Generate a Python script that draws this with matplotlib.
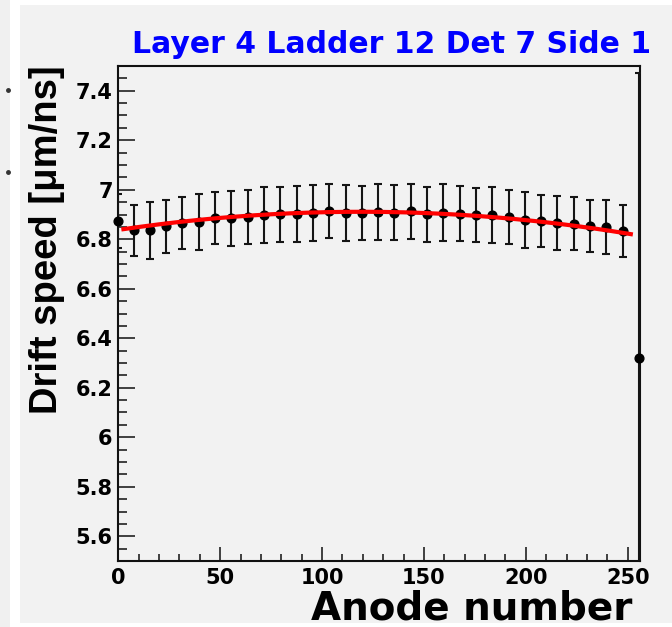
import numpy as np
import matplotlib
matplotlib.use("Agg")
import matplotlib.pyplot as plt
from matplotlib.patches import Rectangle
from matplotlib.lines import Line2D
from matplotlib.ticker import MultipleLocator

plt.rcParams['font.family'] = ['DejaVu Sans']

# ---- data ----
anode = [0, 7.5, 15.5, 23.5, 31.5, 39.5, 47.5, 55.5, 63.5, 71.5, 79.5, 87.5,
         95.5, 103.5, 111.5, 119.5, 127.5, 135.5, 143.5, 151.5, 159.5, 167.5,
         175.5, 183.5, 191.5, 199.5, 207.5, 215.5, 223.5, 231.5, 239.5, 247.5,
         255.5]
drift_speed = [6.874, 6.836, 6.836, 6.853, 6.867, 6.871, 6.884, 6.884, 6.891,
               6.897, 6.901, 6.901, 6.905, 6.914, 6.907, 6.907, 6.911, 6.907,
               6.914, 6.901, 6.907, 6.903, 6.897, 6.898, 6.891, 6.878, 6.874,
               6.867, 6.863, 6.853, 6.849, 6.833, 6.321]
drift_err = [0.11, 0.104, 0.116, 0.107, 0.105, 0.113, 0.105, 0.11, 0.11,
             0.113, 0.111, 0.113, 0.113, 0.108, 0.113, 0.109, 0.113, 0.112,
             0.111, 0.112, 0.116, 0.112, 0.11, 0.112, 0.11, 0.112, 0.104,
             0.109, 0.106, 0.106, 0.108, 0.106, 1.15]
# quadratic fit parameters (p2, p1, p0) and fit range
fit_coeffs = [-5.16e-6, 1.23e-3, 6.8377]
fit_range = [1.5, 252.5]

title = "Layer 4 Ladder 12 Det 7 Side 1"
xlabel = "Anode number"
ylabel = "Drift speed [\u03bcm/ns]"
xticks = [0, 50, 100, 150, 200, 250]
yticks = [5.6, 5.8, 6.0, 6.2, 6.4, 6.6, 6.8, 7.0, 7.2, 7.4]
ytick_labels = ["5.6", "5.8", "6", "6.2", "6.4", "6.6", "6.8", "7", "7.2", "7.4"]

W, H = 672, 627
fig = plt.figure(figsize=(W / 100, H / 100), dpi=100, facecolor='white')

def fx(px):
    return px / W

def fy(py):
    return 1 - py / H

# background panels
fig.add_artist(Rectangle((0, 0), fx(10), 1, transform=fig.transFigure,
                         facecolor='#f0f0f0', edgecolor='none', zorder=-10))
fig.add_artist(Rectangle((fx(20), fy(623)), fx(652), fy(5) - fy(623),
                         transform=fig.transFigure, facecolor='#f2f2f2',
                         edgecolor='none', zorder=-10))
for py in (90, 172):
    fig.add_artist(Line2D([fx(8)], [fy(py)], marker='o', markersize=2.5,
                          color='#333333', transform=fig.transFigure))

left, right, top, bottom = 118.3, 640, 66, 561
ax = fig.add_axes([fx(left), fy(bottom), fx(right - left), fy(top) - fy(bottom)])
ax.set_facecolor('#f2f2f2')

# error bars (clipped to the frame)
ax.errorbar(anode, drift_speed, yerr=drift_err, fmt='none',
            ecolor='#151515', elinewidth=1.5, capsize=2.6, capthick=1.5,
            zorder=3)
# markers (may sit on the frame)
ax.plot(anode, drift_speed, 'o', color='black', markersize=6.3, zorder=4,
        clip_on=False)
# fit curve
fit_x = np.linspace(fit_range[0], fit_range[1], 300)
ax.plot(fit_x, np.polyval(fit_coeffs, fit_x), color='#ff0000', lw=3,
        zorder=5, solid_capstyle='butt')

ax.set_xlim(0, 256)
ax.set_ylim(5.5, 7.5)

ax.set_xticks(xticks)
ax.set_xticklabels([str(t) for t in xticks])
ax.set_yticks(yticks)
ax.set_yticklabels(ytick_labels)
ax.xaxis.set_minor_locator(MultipleLocator(10))
ax.yaxis.set_minor_locator(MultipleLocator(0.05))
ax.tick_params(axis='both', which='both', direction='in', top=False, right=False,
               width=1.2, colors='#222222', labelcolor='black')
ax.tick_params(axis='y', which='major', length=12, pad=4)
ax.tick_params(axis='y', which='minor', length=6.5)
ax.tick_params(axis='x', which='major', length=10, pad=5)
ax.tick_params(axis='x', which='minor', length=5)
for lab in ax.get_xticklabels() + ax.get_yticklabels():
    lab.set_fontsize(15)
    lab.set_fontweight('bold')
for s in ax.spines.values():
    s.set_linewidth(1.5)
    s.set_color('#111111')

fig.text(fx(392), fy(53.3), title, ha='center', va='baseline', color='#0000ff',
         fontsize=21.5, fontweight='bold')
fig.text(fx(632), fy(619.3), xlabel, ha='right', va='baseline', color='black',
         fontsize=28, fontweight='bold')
fig.text(fx(47.5), fy(240), ylabel, ha='center', va='center', rotation=90,
         color='black', fontsize=27.5, fontweight='bold',
         family=['Liberation Sans', 'DejaVu Sans'])

fig.savefig('out.png', dpi=100, facecolor='white')
